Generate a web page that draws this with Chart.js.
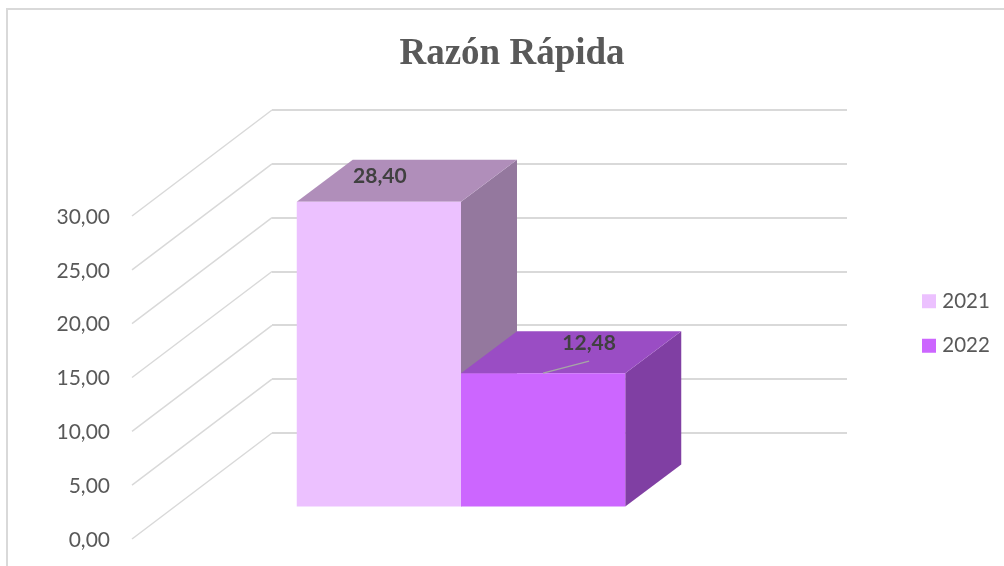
<!DOCTYPE html>
<html>
<head>
<meta charset="utf-8">
<title>Razón Rápida</title>
<style>
html,body{margin:0;padding:0;background:#fff;overflow:hidden}
#frame{position:absolute;left:6px;top:8px;width:1000px;height:560px;border-top:2px solid #d9d9d9;border-left:2px solid #d9d9d9}
canvas{position:absolute;left:0;top:0}
</style>
<script src="https://cdn.jsdelivr.net/npm/chart.js@4/dist/chart.umd.min.js"></script>
</head>
<body>
<div id="frame"></div>
<canvas id="c" width="1004" height="566"></canvas>
<script>
const chartTitle = 'Razón Rápida';
const categories = ['Razón Rápida'];
const seriesNames = ['2021', '2022'];
const values2021 = [28.40];
const values2022 = [12.48];
const axisMin = 0;
const axisMax = 30;
const axisStep = 5;

const frontColors = ['#ecc1ff', '#cc66ff'];
const topColors = ['#b08eba', '#9a4dc4'];
const sideColors = ['#94789e', '#803fa3'];

const fmt = v => v.toFixed(2).replace('.', ',');

// projection of the 3D look
const WALL = {dx: -140, dy: 106};      // back wall to front edge of floor
const FRONT = {dx: -98.5, dy: 74.5};   // back wall to front face of bars
const DEPTH = {dx: 56, dy: -42};       // front face of bar to its back face
const LABEL_OFFSETS = [{dx: 1, dy: -25}, {dx: 46, dy: -30}];

const poly = (ctx, pts, color) => {
  ctx.beginPath();
  pts.forEach((p, i) => i ? ctx.lineTo(p[0], p[1]) : ctx.moveTo(p[0], p[1]));
  ctx.closePath();
  ctx.fillStyle = color;
  ctx.fill();
};

const bars3d = {
  id: 'bars3d',
  beforeLayout(chart) {
    const l = chart.legend;
    if (!l._fixedFit) {
      const fit = l.fit;
      l.fit = function () { fit.call(this); this.width = 157; };
      l._fixedFit = true;
    }
  },
  afterLayout(chart) {
    const l = chart.legend;
    l.left = 926 - l.options.labels.padding;
    l.right = 1004;
    l.top = 291 - l.options.labels.padding;
    l.bottom = 400;
  },
  beforeDatasetsDraw(chart) {
    const ctx = chart.ctx, area = chart.chartArea, y = chart.scales.y;
    // diagonal side-wall grid lines
    ctx.save();
    ctx.strokeStyle = '#d9d9d9';
    ctx.lineWidth = 1.5;
    y.ticks.forEach(t => {
      const py = y.getPixelForValue(t.value);
      ctx.beginPath();
      ctx.moveTo(area.left, py);
      ctx.lineTo(area.left + WALL.dx, py + WALL.dy);
      ctx.stroke();
    });
    // extruded faces
    chart.data.datasets.forEach((ds, i) => {
      const b = chart.getDatasetMeta(i).data[0];
      const l = b.x - b.width / 2 + FRONT.dx, r = b.x + b.width / 2 + FRONT.dx;
      const t = b.y + FRONT.dy, bt = b.base + FRONT.dy;
      poly(ctx, [[r, t], [r + DEPTH.dx, t + DEPTH.dy], [r + DEPTH.dx, bt + DEPTH.dy], [r, bt]], sideColors[i]);
      poly(ctx, [[l, t], [l + DEPTH.dx, t + DEPTH.dy], [r + DEPTH.dx, t + DEPTH.dy], [r, t]], topColors[i]);
    });
    ctx.restore();
    ctx.save();
    ctx.translate(FRONT.dx, FRONT.dy);
  },
  afterDatasetsDraw(chart) {
    const ctx = chart.ctx;
    ctx.restore();
    ctx.save();
    chart.data.datasets.forEach((ds, i) => {
      const b = chart.getDatasetMeta(i).data[0];
      const x = b.x + FRONT.dx, y = b.y + FRONT.dy;
      const o = LABEL_OFFSETS[i];
      if (i === 1) {
        ctx.strokeStyle = '#a6a6a6';
        ctx.lineWidth = 1.5;
        ctx.beginPath();
        ctx.moveTo(x, y);
        ctx.lineTo(x + o.dx, y + o.dy + 18);
        ctx.stroke();
      }
      ctx.font = 'bold 21px Lato';
      ctx.fillStyle = '#404040';
      ctx.textAlign = 'center';
      ctx.textBaseline = 'middle';
      ctx.fillText(fmt(ds.data[0]), x + o.dx, y + o.dy);
    });
    ctx.restore();
  }
};

new Chart(document.getElementById('c'), {
  type: 'bar',
  data: {
    labels: categories,
    datasets: [
      {label: seriesNames[0], data: values2021, backgroundColor: frontColors[0], clip: false, categoryPercentage: 0.5713, barPercentage: 1},
      {label: seriesNames[1], data: values2022, backgroundColor: frontColors[1], clip: false, categoryPercentage: 0.5713, barPercentage: 1}
    ]
  },
  plugins: [bars3d],
  options: {
    responsive: false,
    animation: false,
    layout: {padding: {left: 20, right: 0, top: 0, bottom: 133}},
    scales: {
      x: {display: false},
      y: {
        min: axisMin,
        max: axisMax,
        afterFit(s) { s.width = 252; s.paddingTop = 0; s.paddingBottom = 0; },
        border: {display: false},
        grid: {color: '#d9d9d9', lineWidth: 2, drawTicks: false},
        ticks: {
          stepSize: axisStep,
          padding: 162,
          labelOffset: 107,
          color: '#595959',
          font: {family: 'Lato', size: 21},
          callback: v => fmt(v)
        }
      }
    },
    plugins: {
      title: {
        display: true,
        text: chartTitle,
        color: '#595959',
        font: {family: '"Liberation Serif"', size: 37, weight: 'bold'},
        padding: {top: 32, bottom: 33.6}
      },
      legend: {
        position: 'right',
        align: 'start',
        labels: {
          color: '#595959',
          font: {family: 'Lato', size: 20.5},
          boxWidth: 6,
          boxHeight: 6,
          padding: 24,
          generateLabels: chart => chart.data.datasets.map((d, i) => ({
            text: d.label,
            fillStyle: d.backgroundColor,
            strokeStyle: d.backgroundColor,
            lineWidth: 8,
            datasetIndex: i,
            fontColor: '#595959'
          }))
        }
      },
      tooltip: {enabled: false}
    }
  }
});
</script>
</body>
</html>
